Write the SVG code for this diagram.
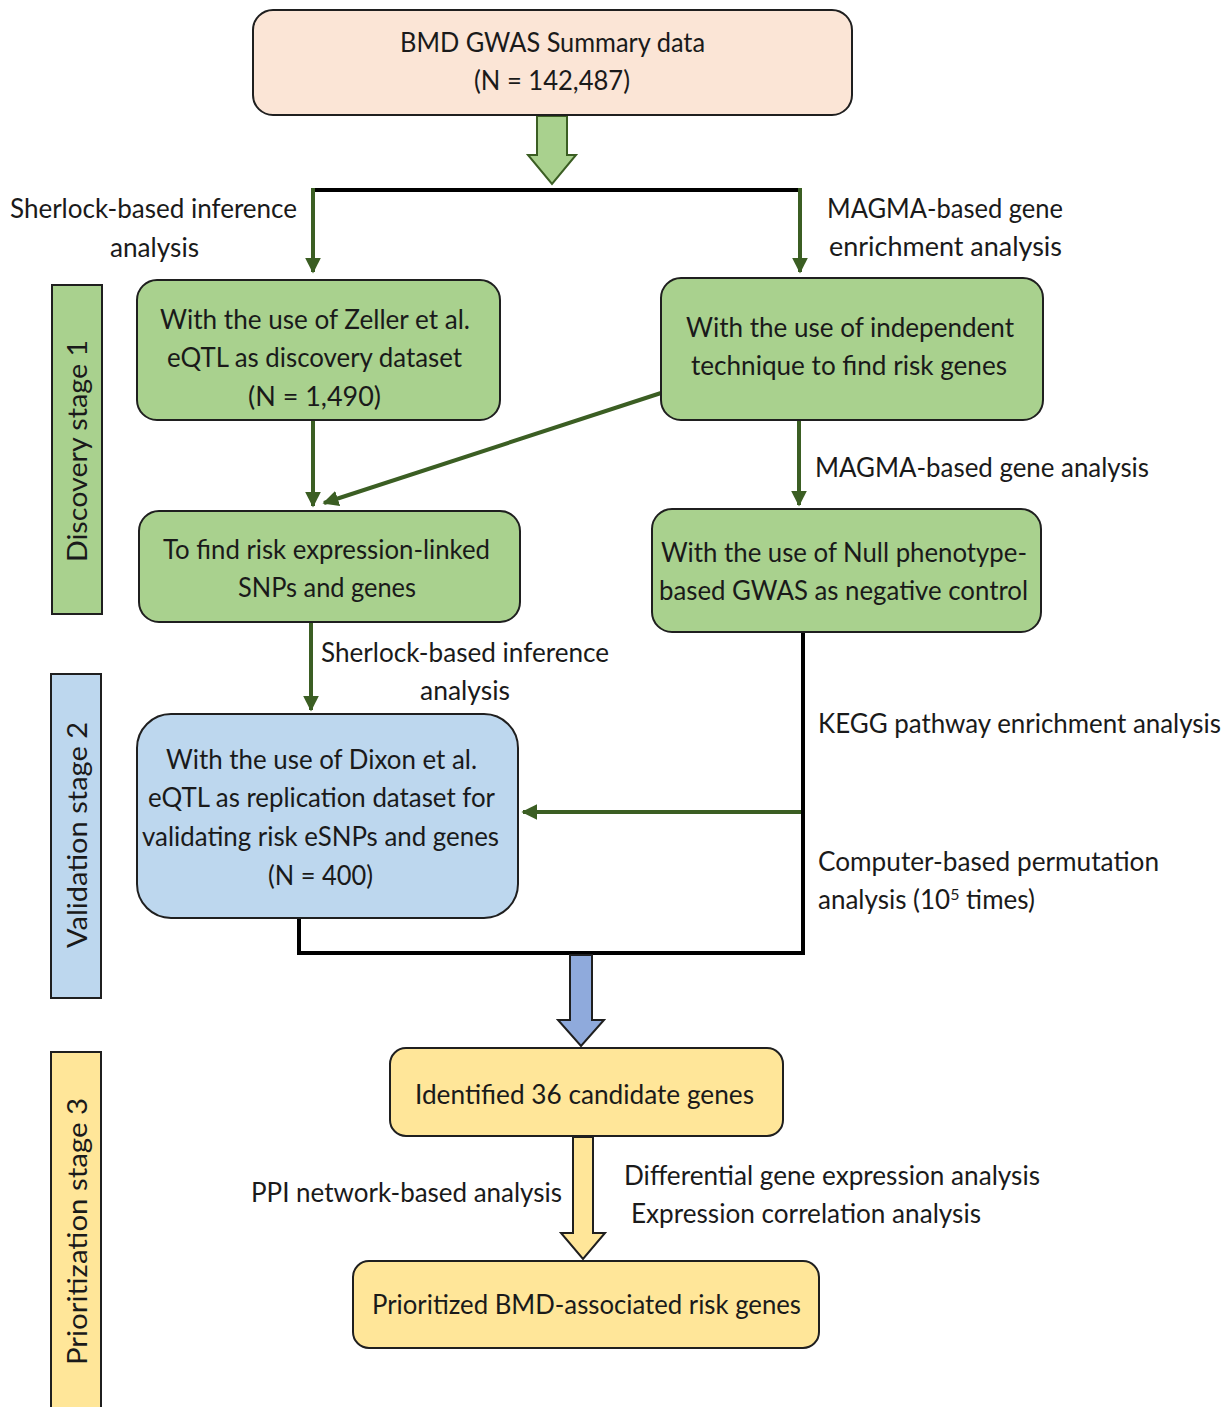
<svg xmlns="http://www.w3.org/2000/svg" width="1226" height="1407" viewBox="0 0 1226 1407">
<defs>
<style>
text{font-family:Lato,"Open Sans","Liberation Sans",sans-serif;font-size:26px;fill:#1a1a1a}
.box{stroke:#1f1f1f;stroke-width:2}
.peach{fill:#FBE5D6}
.green{fill:#A9D18E}
.blue{fill:#BDD7EE}
.yellow{fill:#FFE699}
.ga{stroke:#3B5E23;stroke-width:4;fill:none}
.bl{stroke:#000;stroke-width:4;fill:none}
</style>
<marker id="ah" viewBox="0 0 10 10" refX="9" refY="5" markerWidth="4" markerHeight="4" orient="auto" markerUnits="strokeWidth">
<path d="M0,0 L10,5 L0,10 z" fill="#3B5E23"/>
</marker>
</defs>
<rect width="1226" height="1407" fill="#fff"/>

<g id="stage1"><rect x="52" y="285" width="50" height="329" class="box green"/><text transform="translate(87,562) rotate(-90)" textLength="222" lengthAdjust="spacingAndGlyphs">Discovery stage 1</text></g>
<g id="stage2"><rect x="51" y="674" width="50" height="324" class="box blue"/><text transform="translate(87,948) rotate(-90)" textLength="226" lengthAdjust="spacingAndGlyphs">Validation stage 2</text></g>
<g id="stage3"><rect x="51" y="1052" width="50" height="370" class="box yellow"/><text transform="translate(87,1365) rotate(-90)" textLength="267" lengthAdjust="spacingAndGlyphs">Prioritization stage 3</text></g>

<g id="connectors">
<path d="M537,116 L567,116 L567,155 L576,155 L552,184 L528,155 L537,155 Z" fill="#A9D18E" stroke="#3B5E23" stroke-width="2"/>
<path class="bl" d="M311,190 L802,190"/>
<path class="ga" d="M313,188 L313,272" marker-end="url(#ah)"/>
<path class="ga" d="M800,188 L800,272" marker-end="url(#ah)"/>
<path class="ga" d="M313,420 L313,506" marker-end="url(#ah)"/>
<path class="ga" d="M661,393 L324,503" marker-end="url(#ah)"/>
<path class="ga" d="M799,420 L799,505" marker-end="url(#ah)"/>
<path class="ga" d="M311,622 L311,710" marker-end="url(#ah)"/>
<path class="bl" d="M803,632 L803,955"/>
<path class="ga" d="M801,812 L523,812" marker-end="url(#ah)"/>
<path class="bl" d="M299,918 L299,953 L805,953"/>
<path d="M570,955 L592,955 L592,1020 L604,1020 L581,1046 L558,1020 L570,1020 Z" fill="#8FAADC" stroke="#1f1f1f" stroke-width="2"/>
<path d="M573,1137 L593,1137 L593,1233 L605,1233 L583,1259 L561,1233 L573,1233 Z" fill="#FFE699" stroke="#1f1f1f" stroke-width="2"/>
</g>

<g id="n_gwas"><rect x="253" y="10" width="599" height="105" rx="20" class="box peach"/>
<text x="400" y="52" textLength="305" lengthAdjust="spacingAndGlyphs">BMD GWAS Summary data</text>
<text x="474" y="90" textLength="156" lengthAdjust="spacingAndGlyphs">(N = 142,487)</text></g>

<g id="lbl_sherlock1"><text x="10" y="218" textLength="287" lengthAdjust="spacingAndGlyphs">Sherlock-based inference</text>
<text x="110" y="257" textLength="89" lengthAdjust="spacingAndGlyphs">analysis</text></g>
<g id="lbl_magma1"><text x="827" y="218" textLength="236" lengthAdjust="spacingAndGlyphs">MAGMA-based gene</text>
<text x="829" y="256" textLength="233" lengthAdjust="spacingAndGlyphs">enrichment  analysis</text></g>

<g id="n_zeller"><rect x="137" y="280" width="363" height="140" rx="20" class="box green"/>
<text x="160" y="329" textLength="310" lengthAdjust="spacingAndGlyphs">With the use of Zeller et al.</text>
<text x="167" y="367" textLength="295" lengthAdjust="spacingAndGlyphs">eQTL as discovery dataset</text>
<text x="248" y="406" textLength="133" lengthAdjust="spacingAndGlyphs">(N =  1,490)</text></g>

<g id="n_indep"><rect x="661" y="278" width="382" height="142" rx="20" class="box green"/>
<text x="686" y="337" textLength="328" lengthAdjust="spacingAndGlyphs">With the use of independent</text>
<text x="691" y="375" textLength="316" lengthAdjust="spacingAndGlyphs">technique to find risk genes</text></g>

<g id="n_find"><rect x="139" y="511" width="381" height="111" rx="20" class="box green"/>
<text x="163" y="559" textLength="327" lengthAdjust="spacingAndGlyphs">To find risk expression-linked</text>
<text x="238" y="597" textLength="178" lengthAdjust="spacingAndGlyphs">SNPs and genes</text></g>

<g id="lbl_magma2"><text x="815" y="477" textLength="334" lengthAdjust="spacingAndGlyphs">MAGMA-based gene analysis</text></g>

<g id="n_null"><rect x="652" y="509" width="389" height="123" rx="20" class="box green"/>
<text x="661" y="562" textLength="366" lengthAdjust="spacingAndGlyphs">With the use of Null phenotype-</text>
<text x="659" y="600" textLength="369" lengthAdjust="spacingAndGlyphs">based GWAS as negative control</text></g>

<g id="lbl_sherlock2"><text x="321" y="662" textLength="288" lengthAdjust="spacingAndGlyphs">Sherlock-based inference</text>
<text x="420" y="700" textLength="90" lengthAdjust="spacingAndGlyphs">analysis</text></g>

<g id="lbl_kegg"><text x="818" y="733" textLength="403" lengthAdjust="spacingAndGlyphs">KEGG pathway enrichment analysis</text></g>

<g id="n_dixon"><rect x="137" y="714" width="381" height="204" rx="34" class="box blue"/>
<text x="166" y="769" textLength="311" lengthAdjust="spacingAndGlyphs">With the use of Dixon et al.</text>
<text x="148" y="807" textLength="347" lengthAdjust="spacingAndGlyphs">eQTL as replication dataset for</text>
<text x="142" y="846" textLength="357" lengthAdjust="spacingAndGlyphs">validating risk eSNPs and genes</text>
<text x="268" y="885" textLength="105" lengthAdjust="spacingAndGlyphs">(N = 400)</text></g>

<g id="lbl_perm"><text x="818" y="871" textLength="341" lengthAdjust="spacingAndGlyphs">Computer-based permutation</text>
<text x="818" y="909">analysis (10<tspan font-size="16" dy="-9">5</tspan><tspan dy="9"> times)</tspan></text></g>

<g id="n_36"><rect x="390" y="1048" width="393" height="88" rx="16" class="box yellow"/>
<text x="415" y="1104" textLength="339" lengthAdjust="spacingAndGlyphs">Identified 36 candidate genes</text></g>

<g id="lbl_ppi"><text x="251" y="1202" textLength="311" lengthAdjust="spacingAndGlyphs">PPI network-based analysis</text></g>
<g id="lbl_diff"><text x="624" y="1185" textLength="416" lengthAdjust="spacingAndGlyphs">Differential gene expression analysis</text>
<text x="631" y="1223" textLength="350" lengthAdjust="spacingAndGlyphs">Expression correlation analysis</text></g>

<g id="n_prior"><rect x="353" y="1261" width="466" height="87" rx="16" class="box yellow"/>
<text x="372" y="1314" textLength="429" lengthAdjust="spacingAndGlyphs">Prioritized BMD-associated risk genes</text></g>
</svg>
